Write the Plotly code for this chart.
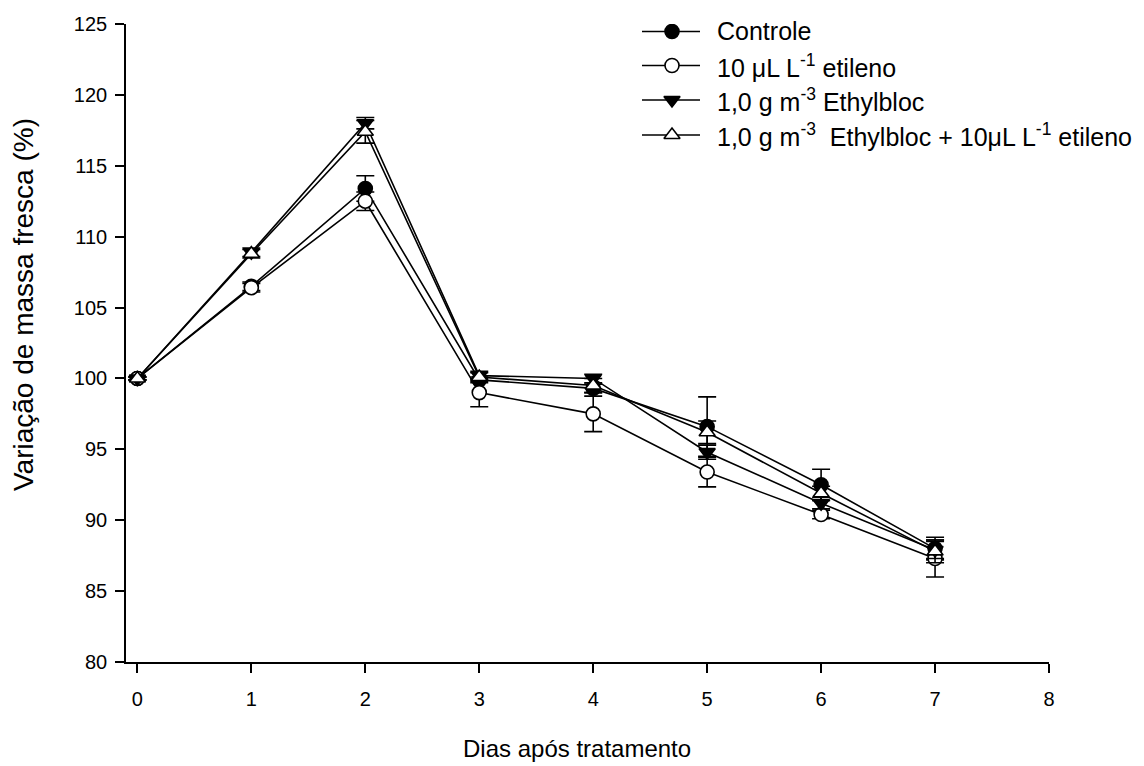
import plotly.graph_objects as go

# Days after treatment
dias = [0, 1, 2, 3, 4, 5, 6, 7]

# Fresh mass variation (%) per treatment, with standard error
controle = [100.0, 106.5, 113.4, 99.9, 99.3, 96.6, 92.5, 88.0]
controle_err = [0.1, 0.3, 0.9, 0.2, 0.3, 2.1, 1.1, 0.8]

etileno = [100.0, 106.4, 112.5, 99.0, 97.5, 93.4, 90.4, 87.3]
etileno_err = [0.1, 0.3, 0.65, 1.0, 1.25, 1.05, 0.3, 1.3]

ethylbloc = [100.0, 108.9, 118.0, 100.2, 100.0, 94.8, 91.2, 87.9]
ethylbloc_err = [0.1, 0.3, 0.4, 0.3, 0.3, 0.5, 0.4, 0.6]

ethylbloc_etileno = [100.0, 108.8, 117.4, 100.1, 99.5, 96.2, 91.9, 87.8]
ethylbloc_etileno_err = [0.1, 0.3, 0.8, 0.3, 0.5, 0.8, 0.5, 0.8]

nomes = [
    "Controle",
    "10 \u03bcL L<sup>-1</sup> etileno",
    "1,0 g m<sup>-3</sup> Ethylbloc",
    "1,0 g m<sup>-3</sup>  Ethylbloc + 10\u03bcL L<sup>-1</sup> etileno",
]

x_titulo = "Dias após tratamento"
y_titulo = "Variação de massa fresca (%)"

FONT = "Liberation Sans, Arial, sans-serif"
BLACK = "#000000"

series = [
    (controle, controle_err, "circle", BLACK),
    (etileno, etileno_err, "circle", "white"),
    (ethylbloc, ethylbloc_err, "triangle-down", BLACK),
    (ethylbloc_etileno, ethylbloc_etileno_err, "triangle-up", "white"),
]

fig = go.Figure()

for (vals, errs, sym, fill), nome in zip(series, nomes):
    fig.add_trace(go.Scatter(
        x=dias, y=vals, name=nome, mode="lines+markers",
        line=dict(color=BLACK, width=1.6),
        marker=dict(symbol=sym, size=14, color=fill,
                    line=dict(color=BLACK, width=1.6)),
        error_y=dict(type="data", array=errs, visible=True,
                     color=BLACK, thickness=1.6, width=9),
        cliponaxis=False, showlegend=False,
    ))

# Plot area in pixels
L, R, T, B = 126, 1049, 24, 662


def px_x(px):
    return (px - L) / (R - L)


def px_y(py):
    return (B - py) / (B - T)


# Legend drawn on an overlay axis measured in pixels of the plot area
leg_rows = [31.5, 65.5, 100.0, 135.0]
for (vals, errs, sym, fill), nome, yrow in zip(series, nomes, leg_rows):
    fig.add_trace(go.Scatter(
        x=[642, 700], y=[yrow, yrow], mode="lines", xaxis="x2", yaxis="y2",
        line=dict(color=BLACK, width=1.6), showlegend=False, hoverinfo="skip",
    ))
    fig.add_trace(go.Scatter(
        x=[672], y=[yrow], mode="markers", xaxis="x2", yaxis="y2",
        marker=dict(symbol=sym, size=14, color=fill,
                    line=dict(color=BLACK, width=1.6)),
        showlegend=False, hoverinfo="skip",
    ))
    fig.add_annotation(
        x=px_x(715), y=px_y(yrow), xref="paper", yref="paper", text=nome,
        showarrow=False, xanchor="left", yanchor="middle",
        font=dict(family=FONT, size=25, color=BLACK),
    )

# Axis titles
fig.add_annotation(
    x=px_x(577), y=px_y(748), xref="paper", yref="paper", text=x_titulo,
    showarrow=False, xanchor="center", yanchor="middle",
    font=dict(family=FONT, size=24, color=BLACK),
)
fig.add_annotation(
    x=px_x(23), y=px_y(305), xref="paper", yref="paper", text=y_titulo,
    showarrow=False, xanchor="center", yanchor="middle", textangle=-90,
    font=dict(family=FONT, size=28, color=BLACK),
)

axis_common = dict(
    showgrid=False, zeroline=False, showline=True, linecolor=BLACK,
    linewidth=1.6, ticks="outside", ticklen=9, tickwidth=1.6,
    tickcolor=BLACK, tickfont=dict(family=FONT, size=20, color=BLACK),
)

fig.update_layout(
    width=1144, height=766,
    margin=dict(l=L, r=1144 - R, t=T, b=766 - B, autoexpand=False),
    paper_bgcolor="white", plot_bgcolor="white",
    showlegend=False,
    xaxis=dict(
        range=[-0.1, 8], tickmode="array", tickvals=list(range(9)),
        ticklabelstandoff=9,
        **axis_common,
    ),
    yaxis=dict(
        range=[80, 125], tickmode="array", tickvals=list(range(80, 126, 5)),
        ticklabelstandoff=4,
        **axis_common,
    ),
    xaxis2=dict(range=[L, R], overlaying="x", visible=False, fixedrange=True),
    yaxis2=dict(range=[B, T], overlaying="y", visible=False, fixedrange=True),
)

fig.write_html("out.html")
